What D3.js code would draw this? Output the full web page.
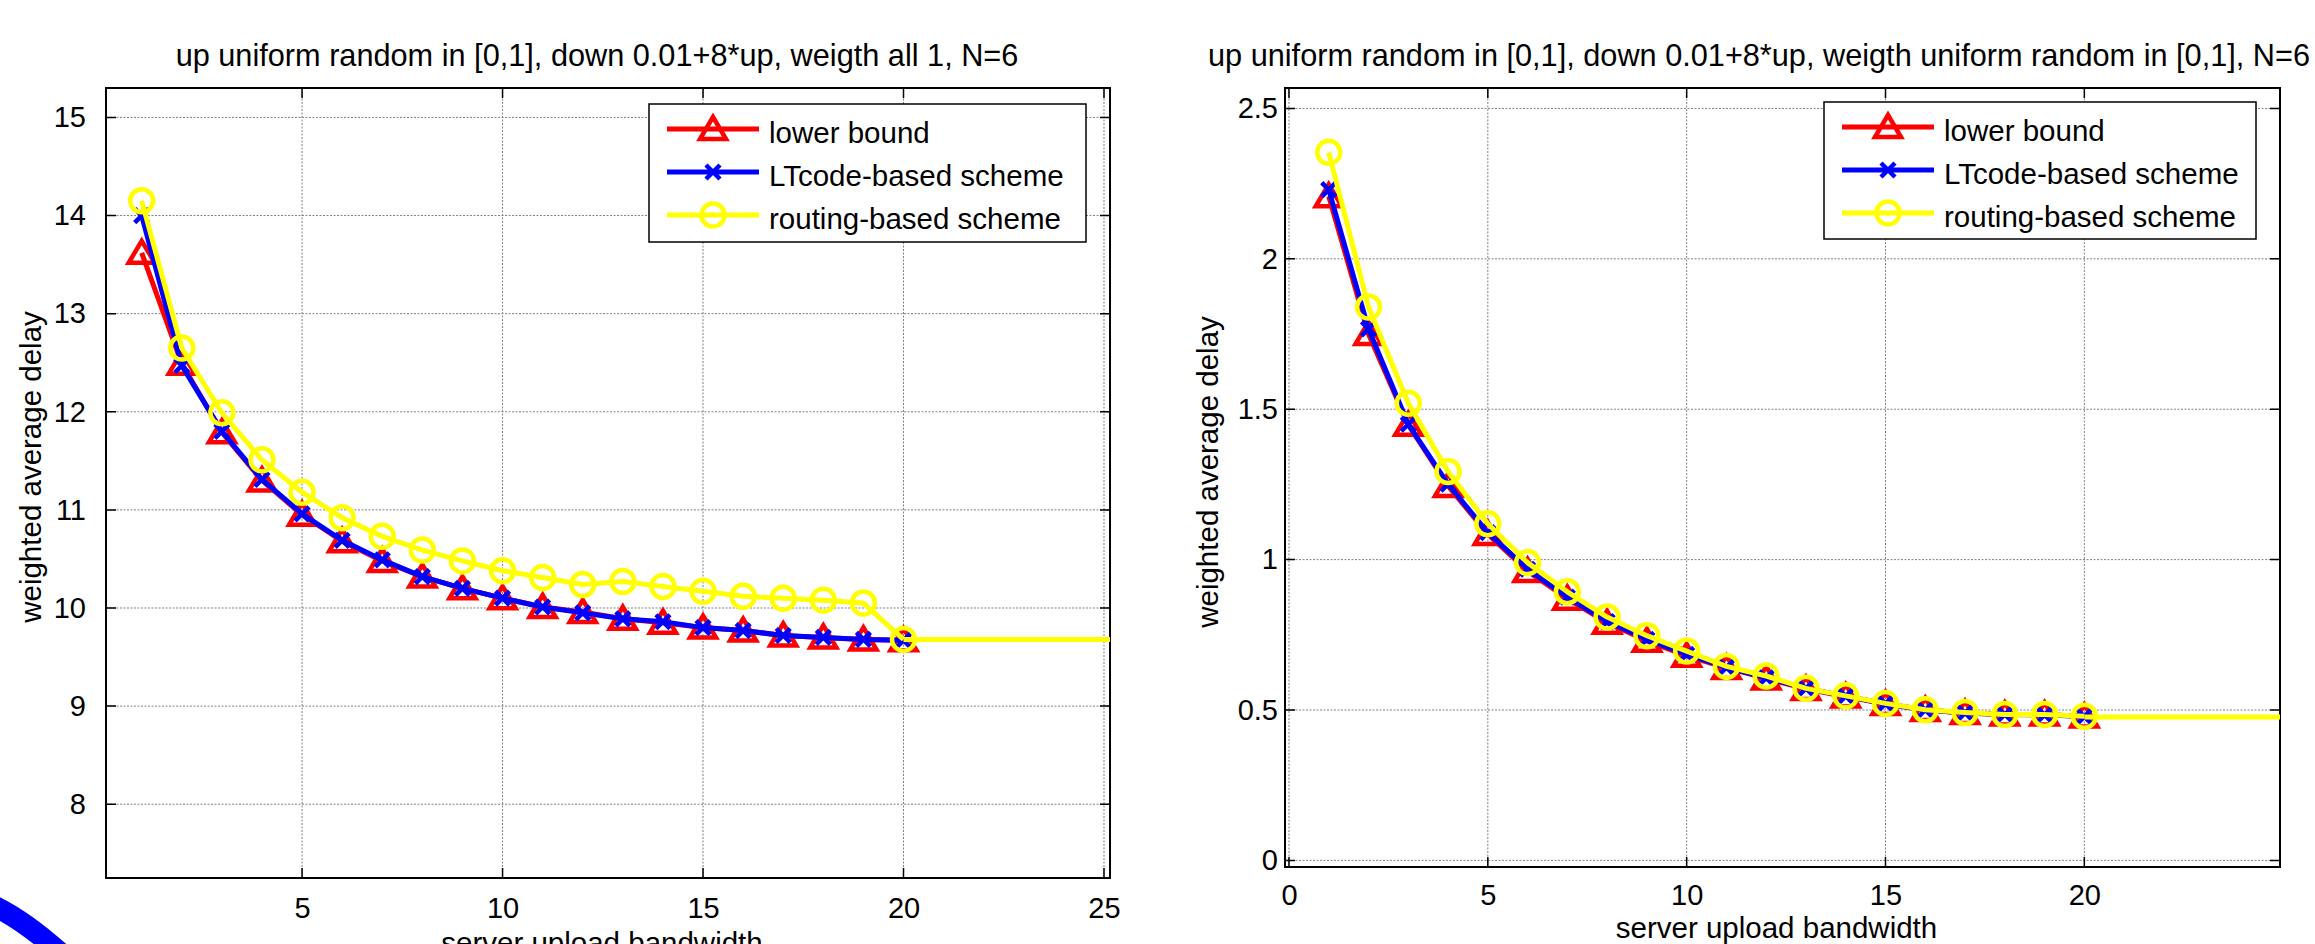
<!DOCTYPE html>
<html>
<head>
<meta charset="utf-8">
<script src="https://cdn.jsdelivr.net/npm/d3@7"></script>
<style>
body{margin:0;background:#fff;overflow:hidden;}
text{font-family:"Liberation Sans",Arial,Helvetica,sans-serif;fill:#000;}
</style>
</head>
<body>
<div class="chart"></div>
<script>
// server upload bandwidth (x values of the markers)
const bandwidth = [1,2,3,4,5,6,7,8,9,10,11,12,13,14,15,16,17,18,19,20];
const seriesNames = ["lower bound", "LTcode-based scheme", "routing-based scheme"];

// left panel: weigth all 1
const leftLower   = [13.62,12.49,11.79,11.30,10.95,10.68,10.48,10.32,10.20,10.10,10.01,9.96,9.89,9.85,9.80,9.77,9.72,9.70,9.68,9.67];
const leftLT      = [14.00,12.47,11.80,11.31,10.96,10.69,10.49,10.32,10.20,10.10,10.01,9.95,9.89,9.86,9.80,9.77,9.72,9.70,9.68,9.67];
const leftRouting = [14.15,12.65,11.99,11.51,11.18,10.92,10.73,10.59,10.48,10.38,10.31,10.24,10.27,10.22,10.17,10.12,10.10,10.08,10.05,9.68];
const leftTailX = [20, 30];
const leftTailY = [9.68, 9.68];
const leftXTicks = [5,10,15,20,25];
const leftYTicks = [8,9,10,11,12,13,14,15];

// right panel: weigth uniform random in [0,1]
const rightLower   = [2.208,1.750,1.448,1.245,1.085,0.962,0.870,0.790,0.730,0.680,0.640,0.605,0.570,0.545,0.520,0.500,0.490,0.485,0.485,0.478];
const rightLT      = [2.230,1.767,1.450,1.251,1.090,0.968,0.875,0.794,0.735,0.685,0.642,0.607,0.572,0.546,0.521,0.500,0.490,0.485,0.484,0.478];
const rightRouting = [2.354,1.840,1.520,1.293,1.119,0.990,0.893,0.809,0.747,0.696,0.645,0.613,0.572,0.547,0.522,0.501,0.492,0.485,0.485,0.479];
const rightTailX = [20, 30];
const rightTailY = [0.477, 0.477];
const rightXTicks = [0,5,10,15,20];
const rightYTicks = [0,0.5,1,1.5,2,2.5];

const colors = ["#ff0000", "#0000ff", "#ffff00"];
const markers = ["triangle", "x", "circle"];

const svg = d3.select(".chart").append("svg")
	.attr("width", 2315)
	.attr("height", 944);

// little blue arc in the bottom left corner of the original picture
svg.append("path")
	.attr("d", "M -10 904 Q 25 920 66 958")
	.attr("fill", "none")
	.attr("stroke", "#0000ff")
	.attr("stroke-width", 21);

function drawMarker(g, type, color, x, y) {
	if (type === "triangle") {
		g.append("path")
			.attr("d", `M ${x} ${y-12} L ${x+13} ${y+10} L ${x-13} ${y+10} Z`)
			.attr("fill", "none")
			.attr("stroke", color)
			.attr("stroke-width", 4.5);
	} else if (type === "x") {
		g.append("path")
			.attr("d", `M ${x-7} ${y-7} L ${x+7} ${y+7} M ${x-7} ${y+7} L ${x+7} ${y-7}`)
			.attr("stroke", color)
			.attr("stroke-width", 4.5);
	} else {
		g.append("circle")
			.attr("cx", x).attr("cy", y).attr("r", 11.5)
			.attr("fill", "none")
			.attr("stroke", color)
			.attr("stroke-width", 4.5);
	}
}

function panel(p) {
	const x = d3.scaleLinear().domain(p.xDom).range([p.left, p.right]);
	const y = d3.scaleLinear().domain(p.yDom).range([p.bottom, p.top]);
	const g = svg.append("g");

	g.append("clipPath").attr("id", p.id)
		.append("rect")
		.attr("x", p.left).attr("y", p.top)
		.attr("width", p.right - p.left).attr("height", p.bottom - p.top);

	// dotted grid
	g.selectAll(".gx").data(p.xTicks).enter().append("line")
		.attr("x1", d=>x(d)).attr("x2", d=>x(d))
		.attr("y1", p.top).attr("y2", p.bottom)
		.attr("stroke", "#808080").attr("stroke-dasharray", "2,1.5");
	g.selectAll(".gy").data(p.yTicks).enter().append("line")
		.attr("y1", d=>y(d)).attr("y2", d=>y(d))
		.attr("x1", p.left).attr("x2", p.right)
		.attr("stroke", "#808080").attr("stroke-dasharray", "2,1.5");

	// axes with inner ticks on all four sides
	const xAxis = d3.axisBottom(x).tickValues(p.xTicks).tickSize(0).tickPadding(p.xPad).tickFormat(d3.format("~g"));
	const yAxis = d3.axisLeft(y).tickValues(p.yTicks).tickSize(0).tickPadding(p.yPad).tickFormat(d3.format("~g"));
	g.append("g").attr("transform", `translate(0,${p.bottom})`).call(xAxis)
		.call(a=>a.select(".domain").remove())
		.selectAll("text").attr("font-size", 29).attr("font-family", "Liberation Sans, Arial");
	g.append("g").attr("transform", `translate(${p.left},0)`).call(yAxis)
		.call(a=>a.select(".domain").remove())
		.selectAll("text").attr("font-size", 29).attr("font-family", "Liberation Sans, Arial");

	const tk = 10;
	g.selectAll(".tb").data(p.xTicks).enter().append("path")
		.attr("d", d=>`M ${x(d)} ${p.bottom} v ${-tk} M ${x(d)} ${p.top} v ${tk}`)
		.attr("stroke", "#000").attr("stroke-width", 1.5);
	g.selectAll(".tl").data(p.yTicks).enter().append("path")
		.attr("d", d=>`M ${p.left} ${y(d)} h ${tk} M ${p.right} ${y(d)} h ${-tk}`)
		.attr("stroke", "#000").attr("stroke-width", 1.5);

	g.append("rect")
		.attr("x", p.left).attr("y", p.top)
		.attr("width", p.right - p.left).attr("height", p.bottom - p.top)
		.attr("fill", "none").attr("stroke", "#000").attr("stroke-width", 2);

	// series
	const line = d3.line().x(d=>x(d[0])).y(d=>y(d[1]));
	const lines = g.append("g").attr("clip-path", `url(#${p.id})`);
	p.series.forEach((s, i) => {
		lines.append("path")
			.datum(bandwidth.map((b, j) => [b, s[j]]))
			.attr("d", line)
			.attr("fill", "none")
			.attr("stroke", colors[i])
			.attr("stroke-width", 5)
			.attr("stroke-linejoin", "round");
		bandwidth.forEach((b, j) => drawMarker(lines, markers[i], colors[i], x(b), y(s[j])));
	});
	lines.append("path")
		.datum(p.tailX.map((t, j) => [t, p.tailY[j]]))
		.attr("d", line)
		.attr("fill", "none")
		.attr("stroke", colors[2])
		.attr("stroke-width", 5);

	// labels
	svg.append("text")
		.attr("x", p.titleX).attr("y", 66)
		.attr("text-anchor", "middle")
		.attr("font-size", 30.7)
		.text(p.title);
	svg.append("text")
		.attr("x", (p.left + p.right) / 2 - 6).attr("y", p.xLabelY)
		.attr("text-anchor", "middle")
		.attr("font-size", 29.5)
		.text("server upload bandwidth");
	svg.append("text")
		.attr("transform", `translate(${p.yLabelX},${p.yLabelY}) rotate(-90)`)
		.attr("text-anchor", "middle")
		.attr("font-size", 29.5)
		.text("weighted average delay");

	// legend
	const lg = svg.append("g").attr("transform", `translate(${p.legX},${p.legY})`);
	lg.append("rect")
		.attr("width", p.legW).attr("height", p.legH)
		.attr("fill", "#fff").attr("stroke", "#000").attr("stroke-width", 1.5);
	seriesNames.forEach((name, i) => {
		const ry = 25 + i * 43;
		lg.append("line")
			.attr("x1", 18).attr("x2", 110)
			.attr("y1", ry).attr("y2", ry)
			.attr("stroke", colors[i]).attr("stroke-width", 5);
		drawMarker(lg, markers[i], colors[i], 64, ry);
		lg.append("text")
			.attr("x", 120).attr("y", ry + 14)
			.attr("font-size", 29.5)
			.text(name);
	});
}

panel({
	id: "clipL",
	left: 106, right: 1110, top: 88, bottom: 878,
	xDom: [0.11, 25.15], yDom: [7.248, 15.3],
	xTicks: leftXTicks, yTicks: leftYTicks,
	xPad: 19, yPad: 20,
	series: [leftLower, leftLT, leftRouting],
	tailX: leftTailX, tailY: leftTailY,
	title: "up uniform random in [0,1], down 0.01+8*up, weigth all 1, N=6",
	titleX: 597, xLabelY: 953, yLabelX: 41, yLabelY: 467,
	legX: 649, legY: 104, legW: 437, legH: 138
});

panel({
	id: "clipR",
	left: 1285, right: 2280, top: 88, bottom: 867,
	xDom: [-0.1, 24.92], yDom: [-0.022, 2.568],
	xTicks: rightXTicks, yTicks: rightYTicks,
	xPad: 17, yPad: 7,
	series: [rightLower, rightLT, rightRouting],
	tailX: rightTailX, tailY: rightTailY,
	title: "up uniform random in [0,1], down 0.01+8*up, weigth uniform random in [0,1], N=6",
	titleX: 1759, xLabelY: 938, yLabelX: 1218, yLabelY: 472,
	legX: 1824, legY: 102, legW: 432, legH: 137
});
</script>
</body>
</html>
